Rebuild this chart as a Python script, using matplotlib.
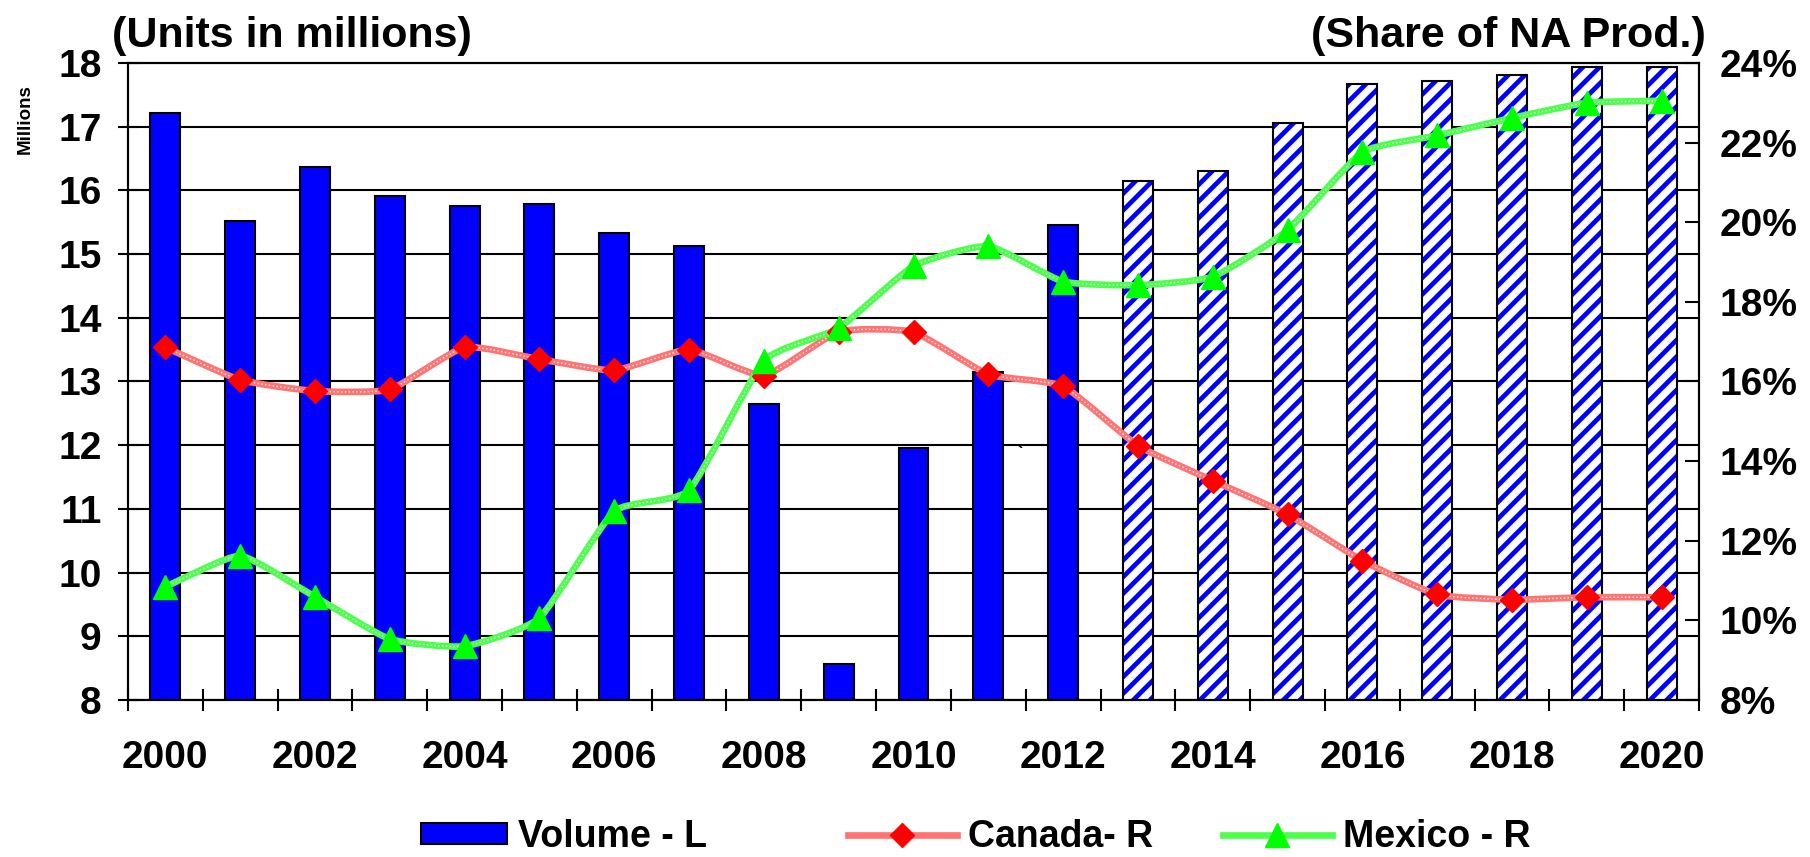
import numpy as np
import matplotlib.pyplot as plt
from matplotlib.path import Path
from matplotlib.patches import PathPatch, Patch
from matplotlib.lines import Line2D

plt.rcParams['font.family'] = ['Liberation Sans', 'DejaVu Sans']
plt.rcParams['font.weight'] = 'bold'
plt.rcParams['hatch.linewidth'] = 3.4

# production volume (millions of units) and shares of NA production (%)
years = list(range(2000, 2021))
volume = [17.21, 15.52, 16.37, 15.91, 15.76, 15.79, 15.33, 15.12, 12.64, 8.57,
          11.95, 13.15, 15.46, 16.15, 16.30, 17.06, 17.67, 17.72, 17.81, 17.93, 17.93]
canada = [16.86, 16.04, 15.76, 15.80, 16.86, 16.56, 16.28, 16.80, 16.15, 17.25,
          17.24, 16.18, 15.88, 14.39, 13.51, 12.66, 11.50, 10.65, 10.52, 10.58, 10.58]
mexico = [10.84, 11.62, 10.59, 9.53, 9.35, 10.06, 12.74, 13.27, 16.52, 17.34,
          18.90, 19.40, 18.51, 18.42, 18.63, 19.80, 21.76, 22.18, 22.62, 23.00, 23.05]
first_forecast = 2013

BLUE = '#0000ff'
RED_LINE = '#ff7373'
GREEN_LINE = '#4dff4d'


def smooth_path(xs, ys, k=12):
    # gently rounded curve through every point
    pts = np.column_stack([xs, ys]).astype(float)
    n = len(pts)
    verts = [pts[0]]
    codes = [Path.MOVETO]
    for i in range(n - 1):
        p0 = pts[max(i - 1, 0)]
        p1 = pts[i]
        p2 = pts[i + 1]
        p3 = pts[min(i + 2, n - 1)]
        verts += [p1 + (p2 - p0) / k, p2 - (p3 - p1) / k, p2]
        codes += [Path.CURVE4] * 3
    return Path(verts, codes)


fig = plt.figure(figsize=(18.1, 8.57), dpi=100)
ax = fig.add_axes([0.0707, 0.1832, 0.868, 0.7433])

x = np.arange(len(years))
yrs = np.array(years)
vol = np.array(volume)
act = yrs < first_forecast
fc = ~act

ax.bar(x[act], vol[act], width=0.4, color=BLUE, edgecolor='black', lw=1.5, zorder=2)
ax.bar(x[fc], vol[fc], width=0.4, facecolor='white', edgecolor=BLUE, hatch='//',
       lw=0, zorder=2)
ax.bar(x[fc], vol[fc], width=0.4, fill=False, edgecolor='black', lw=1.5, zorder=2.1)

ax.set_xlim(-0.5, len(years) - 0.5)
ax.set_ylim(8, 18)
ax.set_yticks(range(8, 19))
ax.yaxis.grid(True, color='black', lw=1.5)
ax.set_axisbelow(True)

ax.set_xticks(x[::2])
ax.set_xticklabels([str(y) for y in years[::2]])
ax.set_xticks(np.arange(-0.5, len(years), 1), minor=True)
ax.tick_params(axis='x', which='major', length=0, pad=29, labelsize=28)
ax.tick_params(axis='x', which='minor', direction='inout', length=16, width=1.5)
ax.tick_params(axis='y', direction='inout', length=14, width=1.5, pad=12, labelsize=28)
for s in ax.spines.values():
    s.set_linewidth(1.5)

# stray mark left in the source chart
ax.text(11.42, 11.85, '`', fontsize=14, ha='center', va='center')

ax2 = ax.twinx()
ax2.set_ylim(8, 24)
ax2.set_yticks(range(8, 25, 2))
ax2.set_yticklabels(['%d%%' % v for v in range(8, 25, 2)])
ax2.tick_params(axis='y', direction='in', length=10, width=1.5, pad=15, labelsize=28)
for s in ax2.spines.values():
    s.set_linewidth(1.5)

for vals, col, mk, ms, mcol in [(canada, RED_LINE, 'D', 12.5, '#ff0000'),
                                (mexico, GREEN_LINE, '^', 17.5, '#00ff00')]:
    path = smooth_path(x, vals)
    ax2.add_patch(PathPatch(path, fill=False, edgecolor=col, lw=4.8, zorder=3))
    ax2.add_patch(PathPatch(path, fill=False, edgecolor='white', lw=1.1,
                            linestyle=(0, (1, 1.5)), alpha=0.8, zorder=3.1))
    ax2.plot(x, vals, ls='none', marker=mk, ms=ms, color=mcol, zorder=4)

# legend entries placed one by one along the bottom
entries = [
    (Patch(facecolor=BLUE, edgecolor='black', lw=1.5), 'Volume - L', 421, 2.3),
    (Line2D([], [], color=RED_LINE, lw=4.8, marker='D', ms=12.5,
            mfc='#ff0000', mec='#ff0000'), 'Canada- R', 848, 2.9),
    (Line2D([], [], color=GREEN_LINE, lw=4.8, marker='^', ms=17.5,
            mfc='#00ff00', mec='#00ff00'), 'Mexico - R', 1223, 2.9),
]
for h, lab, left, hl in entries:
    fig.legend([h], [lab], loc='center left',
               bbox_to_anchor=(left / 1810, 1 - 837 / 857), frameon=False,
               fontsize=27, handlelength=hl, handletextpad=0.3, handleheight=0.5,
               borderpad=0, borderaxespad=0)

fig.text(112 / 1810, 1 - 36 / 857, '(Units in millions)', fontsize=31,
         ha='left', va='center')
fig.text(1706 / 1810, 1 - 36 / 857, '(Share of NA Prod.)', fontsize=31,
         ha='right', va='center')
fig.text(25 / 1810, 1 - 119 / 857, 'Millions', fontsize=13.5, rotation=90,
         ha='center', va='center')

fig.savefig('out.png', dpi=100)
